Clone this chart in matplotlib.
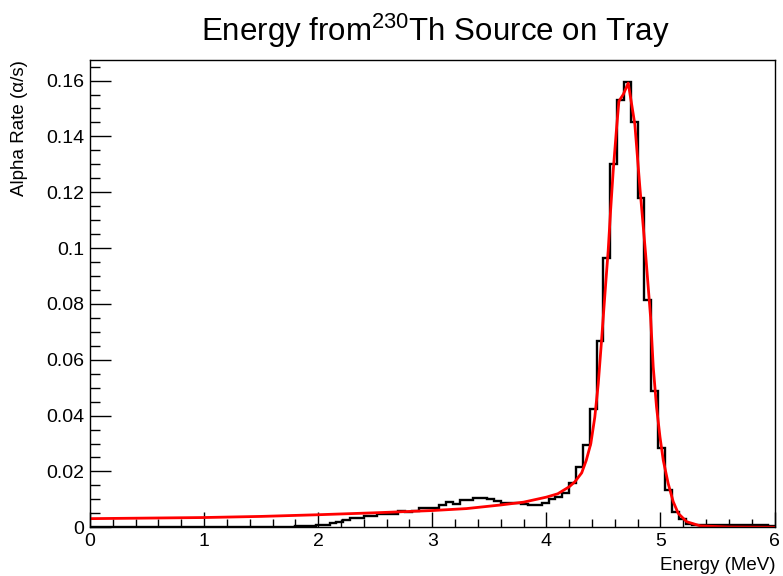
import matplotlib
matplotlib.use('Agg')
import matplotlib.pyplot as plt
import numpy as np
from matplotlib.ticker import MultipleLocator, FormatStrFormatter

plt.rcParams['font.family'] = ['Liberation Sans', 'DejaVu Sans']
plt.rcParams['mathtext.fontset'] = 'custom'
plt.rcParams['mathtext.rm'] = 'Liberation Sans'
plt.rcParams['mathtext.it'] = 'Liberation Sans'

# histogram: 100 bins from 0 to 6 MeV
bin_edges = np.linspace(0, 6, 101)
rate = [0.0] * 23 + [0.0001] * 5 + [
    0.0002, 0.0002, 0.0004, 0.0005, 0.0006, 0.0008,
    0.0010, 0.0017, 0.0020, 0.0026, 0.0034, 0.0034, 0.0041, 0.0041, 0.0049, 0.0048,
    0.0049, 0.0058, 0.0056, 0.0058, 0.0069, 0.0068, 0.0070, 0.0080, 0.0090, 0.0082,
    0.0098, 0.0098, 0.0106, 0.0106, 0.0100, 0.0094, 0.0088, 0.0086, 0.0086, 0.0082,
    0.0079, 0.0079, 0.0088, 0.0103, 0.0108, 0.0124, 0.0160, 0.0216, 0.0296, 0.0422,
    0.0669, 0.0966, 0.1302, 0.1531, 0.1594, 0.1453, 0.1180, 0.0815, 0.0488, 0.0284,
    0.0132, 0.0055, 0.0028, 0.0011,
    0.0008, 0.0009, 0.0008, 0.0008, 0.0009, 0.0008, 0.0007, 0.0008, 0.0008, 0.0007,
    0.0007, 0.0006]

# fit curve
fit_e = [0.0, 0.5, 1.0, 1.5, 2.0, 2.5, 3.0, 3.3, 3.6, 3.8, 4.0, 4.1, 4.2, 4.25, 4.31,
         4.35, 4.39, 4.425, 4.455, 4.484, 4.52, 4.542, 4.563, 4.586, 4.616, 4.636, 4.674,
         4.718, 4.776, 4.82, 4.87, 4.914, 4.937, 4.966, 4.996, 5.025, 5.068, 5.112, 5.156,
         5.23, 5.35, 5.6, 6.0]
fit_rate = [0.0031, 0.0033, 0.0035, 0.0039, 0.0045, 0.0052, 0.0060, 0.0067, 0.0080, 0.0090,
            0.0108, 0.0120, 0.0145, 0.0163, 0.0195, 0.0240, 0.0300, 0.0395, 0.0514, 0.0669,
            0.0871, 0.0990, 0.1133, 0.1276, 0.1431, 0.1526, 0.1550, 0.1591, 0.1443, 0.1217,
            0.0980, 0.0752, 0.0574, 0.0431, 0.0324, 0.0240, 0.0157, 0.0092, 0.0050, 0.0020,
            0.0005, 0.0001, 0.0]

fig = plt.figure(figsize=(7.83, 5.76), dpi=100)
ax = fig.add_axes([90 / 783, 1 - 527.3 / 576, 684.5 / 783, 467.3 / 576])

ax.stairs(rate, bin_edges, color='black', lw=1.7, baseline=None)
ax.plot(fit_e, fit_rate, color='red', lw=2)

ax.set_xlim(0, 6)
ax.set_ylim(0, max(rate) * 1.05)
ax.xaxis.set_major_locator(MultipleLocator(1))
ax.xaxis.set_minor_locator(MultipleLocator(0.2))
ax.yaxis.set_major_locator(MultipleLocator(0.02))
ax.yaxis.set_minor_locator(MultipleLocator(0.005))
ax.yaxis.set_major_formatter(FormatStrFormatter('%g'))
ax.xaxis.set_major_formatter(FormatStrFormatter('%g'))
ax.tick_params(axis='x', which='major', direction='in', length=11, width=1, labelsize=14, pad=4)
ax.tick_params(axis='x', which='minor', direction='in', length=5.5, width=1)
ax.tick_params(axis='y', which='major', direction='in', length=15, width=1, labelsize=14, pad=4)
ax.tick_params(axis='y', which='minor', direction='in', length=7.5, width=1)
for s in ax.spines.values():
    s.set_linewidth(1)

fig.text(435 / 783, 1 - 41 / 576, 'Energy from$^{230}$Th Source on Tray', fontsize=22.5,
         ha='center', va='baseline')
fig.text(20 / 783, 1 - 60 / 576, 'Alpha Rate (\u03b1/s)', fontsize=13.5, rotation=90,
         ha='center', va='top')
fig.text(775 / 783, 1 - 566 / 576, 'Energy (MeV)', fontsize=13.5, ha='right', va='center')

fig.savefig('out.png', dpi=100)
